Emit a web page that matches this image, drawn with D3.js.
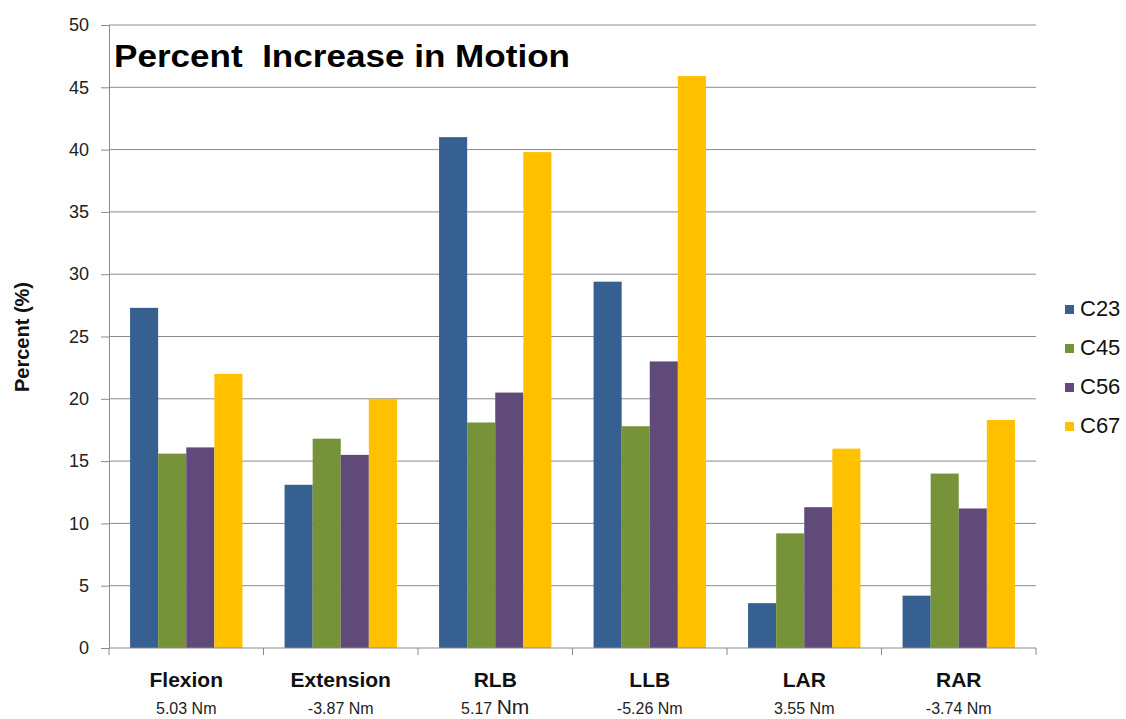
<!DOCTYPE html>
<html><head><meta charset="utf-8">
<script src="https://cdn.jsdelivr.net/npm/d3@7"></script>
<style>body{margin:0;background:#fff}svg{display:block}text{font-family:"Liberation Sans",Arial,sans-serif}</style>
</head><body>
<script>
const categories = ["Flexion","Extension","RLB","LLB","LAR","RAR"];
const torques = ["5.03 Nm","-3.87 Nm","5.17 Nm","-5.26 Nm","3.55 Nm","-3.74 Nm"];
const seriesNames = ["C23","C45","C56","C67"];
const C23 = [27.3,13.1,41.0,29.4,3.6,4.2];
const C45 = [15.6,16.8,18.1,17.8,9.2,14.0];
const C56 = [16.1,15.5,20.5,23.0,11.3,11.2];
const C67 = [22.0,20.0,39.8,45.9,16.0,18.3];
const yTicks = [0,5,10,15,20,25,30,35,40,45,50];
const colors = ["#35608f","#779339","#5f4a7a","#ffc000"];
const seriesValues = [C23,C45,C56,C67];

const W=1126,H=719;
const L=109,R=1036,T=25,B=648;
const svg=d3.select("body").append("svg").attr("width",W).attr("height",H);

const x0=d3.scaleBand().domain(categories).range([L,R]).padding(0);
const step=x0.bandwidth();
const gap=step*1.5/5.5;
const x1=d3.scaleBand().domain(seriesNames).range([gap/2,step-gap/2]).padding(0);
const y=d3.scaleLinear().domain([0,50]).range([B,T]);

// gridlines
svg.append("g").selectAll("line").data(yTicks.filter(d=>d>0)).join("line")
  .attr("x1",L).attr("x2",R).attr("y1",d=>y(d)).attr("y2",d=>y(d))
  .attr("stroke","#8a8a8a").attr("stroke-width",1);

// y axis
const yAxis=svg.append("g").attr("transform",`translate(${L},0)`)
  .call(d3.axisLeft(y).tickValues(yTicks).tickSize(8).tickPadding(12));
yAxis.select(".domain").attr("stroke","#8a8a8a");
yAxis.selectAll(".tick line").attr("stroke","#8a8a8a");
yAxis.selectAll("text").attr("font-size",18).attr("fill","#222").attr("font-family","Liberation Sans, Arial, sans-serif");

// bars
const g=svg.append("g");
categories.forEach((c,i)=>{
  seriesNames.forEach((s,j)=>{
    g.append("rect")
      .attr("x",x0(c)+x1(s)).attr("width",x1.bandwidth())
      .attr("y",y(seriesValues[j][i])).attr("height",B-y(seriesValues[j][i]))
      .attr("fill",colors[j]);
  });
});

// x axis
const xAxisG=svg.append("g").attr("transform",`translate(0,${B})`);
xAxisG.append("line").attr("x1",L).attr("x2",R).attr("y1",0).attr("y2",0).attr("stroke","#8a8a8a");
const bounds=categories.map(c=>x0(c)).concat([R]);
xAxisG.selectAll("line.t").data(bounds).join("line").attr("class","t")
  .attr("x1",d=>d).attr("x2",d=>d).attr("y1",0).attr("y2",7).attr("stroke","#8a8a8a");

// category labels
svg.append("g").selectAll("text").data(categories).join("text")
  .attr("x",d=>x0(d)+step/2).attr("y",687).attr("text-anchor","middle")
  .attr("font-size",21).attr("font-weight","bold").attr("fill","#111").text(d=>d);
// torque labels
const tl=svg.append("g").selectAll("text").data(torques).join("text")
  .attr("x",(d,i)=>x0(categories[i])+step/2).attr("y",714).attr("text-anchor","middle")
  .attr("font-size",16).attr("fill","#222");
tl.each(function(d,i){
  const t=d3.select(this);
  if(i===2){
    t.append("tspan").text("5.17 ");
    t.append("tspan").attr("font-size",21).text("Nm");
  } else t.text(d);
});

// title
svg.append("text").attr("x",114).attr("y",67).attr("font-size",31).attr("font-weight","bold")
  .attr("fill","#000").attr("textLength",456).attr("lengthAdjust","spacingAndGlyphs")
  .style("white-space","pre").text("Percent  Increase in Motion");

// y title
svg.append("text").attr("transform","translate(29,337) rotate(-90)").attr("text-anchor","middle")
  .attr("font-size",20).attr("font-weight","bold").attr("fill","#111").text("Percent (%)");

// legend
const leg=svg.append("g");
seriesNames.forEach((s,j)=>{
  const by=316+j*39;
  leg.append("rect").attr("x",1065).attr("y",by-11).attr("width",9).attr("height",9).attr("fill",colors[j]);
  leg.append("text").attr("x",1080).attr("y",by).attr("font-size",22).attr("fill","#111").text(s);
});
</script>
</body></html>
